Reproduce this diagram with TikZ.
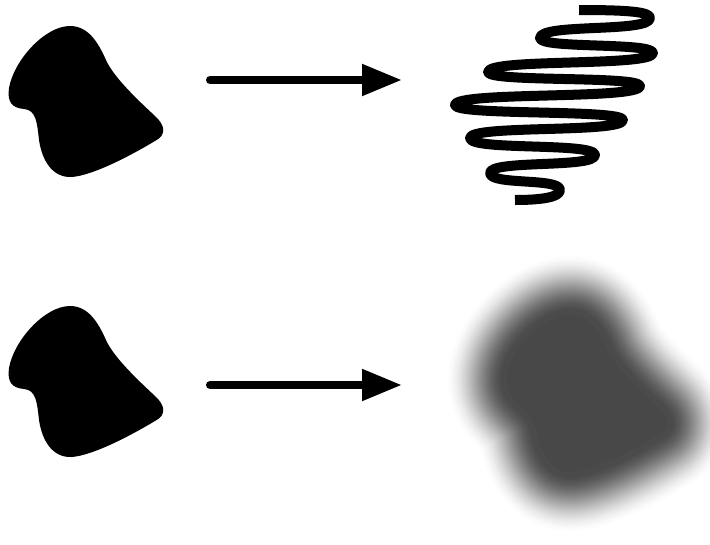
\documentclass[tikz,border=0pt]{standalone}
\usetikzlibrary{arrows.meta}
\definecolor{blurgray}{RGB}{72,72,72}
\newcommand\blobshape{(-15,-75) .. controls (3,-75) and (13,-59) .. (21,-41) .. controls (29,-23) and (55,1) .. (70,15) .. controls (80,24) and (82,34) .. (70,40) .. controls (50,52) and (10,74) .. (-13,76) .. controls (-33,77) and (-43,59) .. (-46,39) .. controls (-48,21) and (-49,9) .. (-61,8) .. controls (-73,7) and (-78,1) .. (-76,-13) .. controls (-71,-41) and (-40,-75) .. (-15,-75) -- cycle}
\newcommand\softblob{(-15,-75) .. controls (3,-75) and (13,-59) .. (21,-41) .. controls (29,-23) and (55,1) .. (70,15) .. controls (80,24) and (82,34) .. (70,40) .. controls (50,52) and (10,74) .. (-13,76) .. controls (-33,77) and (-43,59) .. (-48,35) .. controls (-52,15) and (-76,10) .. (-76,-13) .. controls (-76,-41) and (-40,-75) .. (-15,-75) -- cycle}
\begin{document}
\begin{tikzpicture}[x=1pt,y=-1pt,
  arrowline/.style={line width=8pt, line cap=round, -{Triangle[length=40pt,width=30pt]}},
  springline/.style={line width=10pt, line cap=butt, line join=round}]
\useasboundingbox (0,0) rectangle (710,544);
% source shapes
\fill[black, shift={(85,101)}] \blobshape;
\fill[black, shift={(85,381)}] \blobshape;
% arrows
\coordinate (a1) at (210,80);
\coordinate (a2) at (402,80);
\coordinate (b1) at (210,385);
\coordinate (b2) at (402,385);
\draw[arrowline] (a1) -- (a2);
\draw[arrowline] (b1) -- (b2);
% spring
\draw[springline] (579,10) .. controls (630,10) and (650,12) .. (650,18)
  .. controls (650,33) and (540,23) .. (540,38)
  .. controls (540,49) and (653,42) .. (653,53)
  .. controls (653,67) and (488,58) .. (488,72)
  .. controls (488,82.5) and (640,75.5) .. (640,86)
  .. controls (640,100) and (455,91) .. (455,105)
  .. controls (455,116) and (623,109) .. (623,120)
  .. controls (623,133.5) and (470,124.5) .. (470,138)
  .. controls (470,151) and (595,142) .. (595,155)
  .. controls (595,168.5) and (490,159.5) .. (490,173)
  .. controls (490,185.5) and (560,177.5) .. (560,190)
  .. controls (560,197.5) and (540,200) .. (515,200);
% blurred shape: opaque layers, lightest (widest) first
\foreach \k in {1,...,56}{
  \pgfmathsetmacro\bvv{1-(\k-0.5)/57}
  \pgfmathsetmacro\buu{0.5-sin(asin(1-2*\bvv)/3)}
  \pgfmathsetmacro\bwid{2*62*\buu}
  \pgfmathsetmacro\bmix{100*\k/57}
  \draw[draw=blurgray!\bmix!white, line width=\bwid pt, line join=round, shift={(586,393)}, scale=1.04] \softblob;
}
\fill[blurgray, shift={(586,393)}, scale=1.04] \softblob;
\end{tikzpicture}
\end{document}
